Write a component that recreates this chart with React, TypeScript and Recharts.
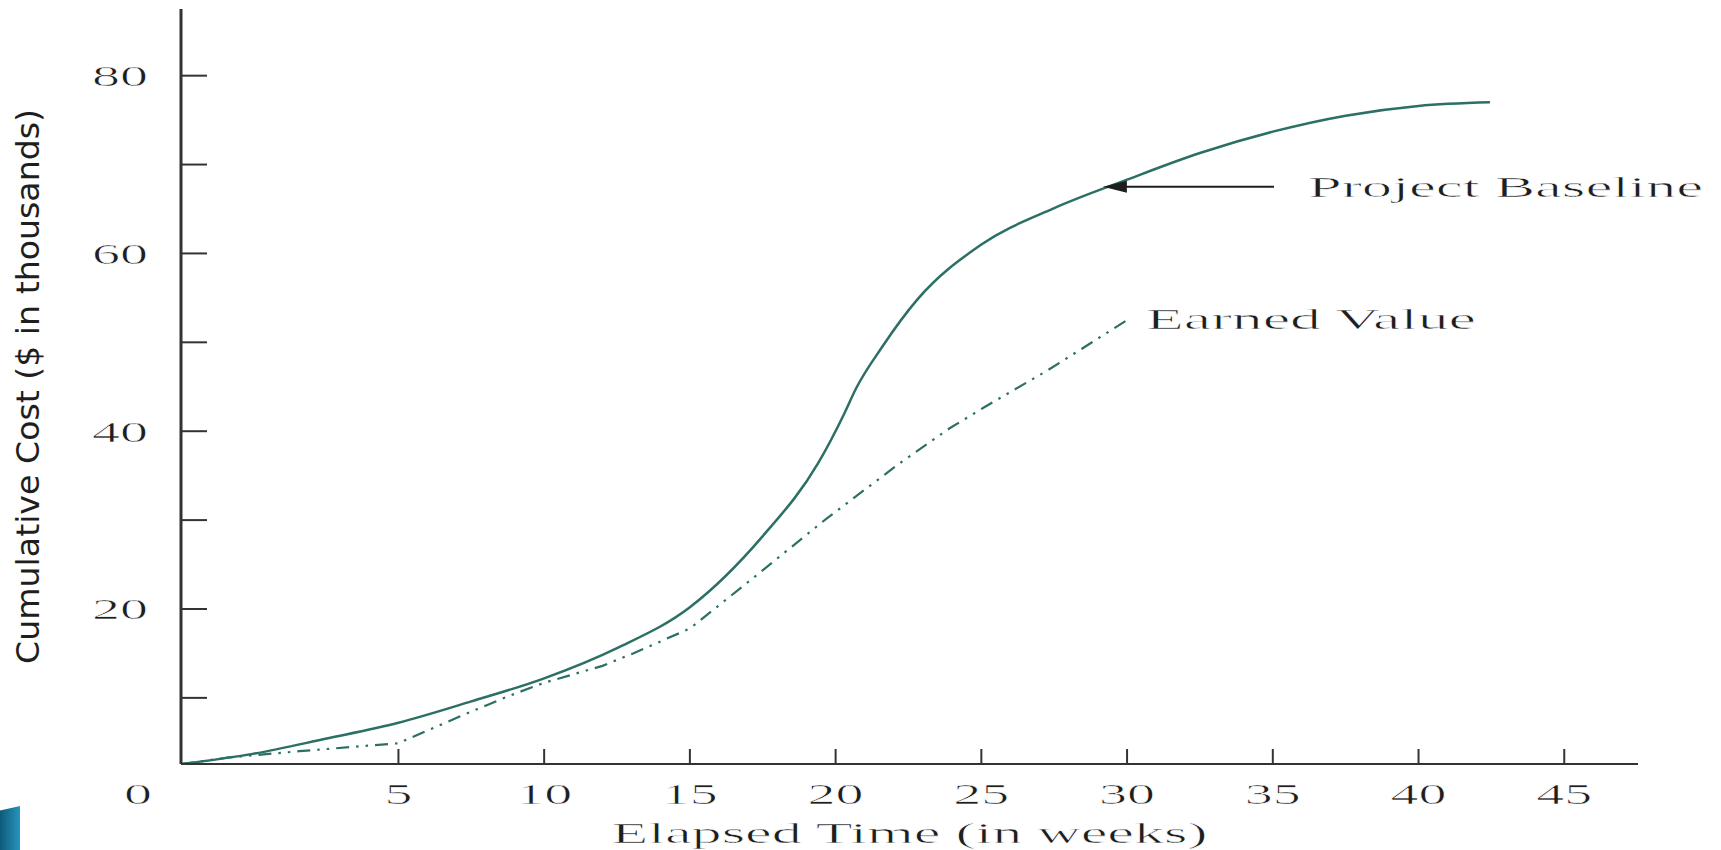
import { LineChart, Line, XAxis, YAxis, ReferenceLine, ReferenceDot } from "recharts";

// weeks / cumulative cost ($ thousands)
const baselineWeeks = [-2.46, 0, 2.5, 5, 7.5, 10, 12.5, 15, 17.5, 19.4, 20.3, 20.7, 21.6, 22.8, 25, 27.5, 30, 32.5, 35, 37.5, 40, 42.45];
const baselineCost = [2.56, 3.7, 5.4, 7.2, 9.6, 12.2, 15.6, 20.2, 28.2, 36.4, 42, 44.8, 49.5, 54.8, 61, 65.1, 68.3, 71.3, 73.7, 75.5, 76.6, 77.0];

const earnedWeeks = [-2.46, -0.8, 1.6, 5, 7.1, 8.7, 10, 12, 13.05, 15, 17.1, 19.7, 22.2, 23.9, 25.1, 27.3, 30];
const earnedCost = [2.56, 3.3, 4.0, 4.9, 7.9, 10.1, 11.7, 13.6, 15.0, 17.8, 23.3, 30.2, 36.4, 40.3, 42.7, 46.9, 52.5];

const xTicks = [5, 10, 15, 20, 25, 30, 35, 40, 45];
const yTicks = [10, 20, 30, 40, 50, 60, 70, 80];
const yLabelTicks = [20, 40, 60, 80];

const baselineData = baselineWeeks.map((w, i) => ({ week: w, cost: baselineCost[i] }));
const earnedData = earnedWeeks.map((w, i) => ({ week: w, cost: earnedCost[i] }));

const LINE = "#2b6f65";
const AXIS = "#333";
const INK = "#1e1e1e";
const SERIF = "'Liberation Serif', 'DejaVu Serif', serif";
const NARROW = "'Liberation Sans Narrow', 'DejaVu Sans Condensed', 'Liberation Sans', sans-serif";
const DIGIT_W = 28;

// thin white outline to take some weight off the stretched serif glyphs
const thin = { stroke: "#fff", strokeWidth: 0.6 };

const YTick = (props: any) => {
  const { x, y, payload } = props;
  const v = payload.value;
  const s = String(v);
  return (
    <g>
      <line x1={x} y1={y} x2={x + 26} y2={y} stroke={AXIS} strokeWidth={2} />
      {yLabelTicks.includes(v) && (
        <text x={x - 33} y={y} textAnchor="end" dominantBaseline="central" fontFamily={SERIF} fontSize={30} fill={INK}
          textLength={DIGIT_W * s.length} lengthAdjust="spacingAndGlyphs" {...thin}>
          {s}
        </text>
      )}
    </g>
  );
};

const XTick = (props: any) => {
  const { x, y, payload } = props;
  const s = String(payload.value);
  return (
    <g>
      <line x1={x} y1={y} x2={x} y2={y - 15} stroke={AXIS} strokeWidth={2} />
      <text x={x} y={y + 29} textAnchor="middle" dominantBaseline="central" fontFamily={SERIF} fontSize={30} fill={INK}
        textLength={DIGIT_W * s.length} lengthAdjust="spacingAndGlyphs" {...thin}>
        {s}
      </text>
    </g>
  );
};

const Arrow = (p: any) => {
  const tipX = Math.min(p.x1, p.x2);
  const tailX = Math.max(p.x1, p.x2);
  const y = p.y1;
  const head = 24;
  return (
    <g>
      <line x1={tailX} y1={y} x2={tipX + head - 2} y2={y} stroke={INK} strokeWidth={2} />
      <polygon points={`${tipX},${y} ${tipX + head},${y - 6} ${tipX + head},${y + 6}`} fill={INK} />
    </g>
  );
};

const annotation = (text: string, width: number) => (p: any) => {
  const vb = p.viewBox || {};
  return (
    <text x={vb.x} y={vb.y} dominantBaseline="central" fontFamily={SERIF} fontSize={30} fill={INK}
      textLength={width} lengthAdjust="spacingAndGlyphs" {...thin}>
      {text}
    </text>
  );
};

const zeroLabel = (p: any) => {
  const vb = p.viewBox || {};
  return (
    <text x={vb.x - 43} y={vb.y + 29} textAnchor="middle" dominantBaseline="central" fontFamily={SERIF} fontSize={30} fill={INK}
      textLength={DIGIT_W} lengthAdjust="spacingAndGlyphs" {...thin}>
      0
    </text>
  );
};

const xTitle = (p: any) => {
  const vb = p.viewBox || {};
  return (
    <text x={vb.x + vb.width / 2} y={vb.y + 68} textAnchor="middle" dominantBaseline="central" fontFamily={SERIF} fontSize={30} fill={INK}
      textLength={596} lengthAdjust="spacingAndGlyphs" {...thin}>
      Elapsed Time (in weeks)
    </text>
  );
};

const yTitle = (p: any) => {
  const vb = p.viewBox || {};
  const cx = 28;
  const cy = vb.y + vb.height / 2;
  return (
    <text x={cx} y={cy} transform={`rotate(-90, ${cx}, ${cy})`} textAnchor="middle" dominantBaseline="central"
      fontFamily={NARROW} fontSize={32} fill={INK} textLength={555} lengthAdjust="spacingAndGlyphs">
      Cumulative Cost ($ in thousands)
    </text>
  );
};

export default function App() {
  return (
    <div style={{ position: "absolute", left: 0, top: 0, width: 1721, height: 850, background: "#fff" }}>
      <LineChart width={1721} height={850} margin={{ top: 9, right: 83, bottom: 56, left: 121 }}>
        <XAxis
          dataKey="week"
          type="number"
          domain={[-2.46, 47.53]}
          ticks={xTicks}
          allowDataOverflow
          height={30}
          tickLine={false}
          tickSize={0}
          tickMargin={0}
          tick={<XTick />}
          axisLine={{ stroke: AXIS, strokeWidth: 2 }}
          label={{ content: xTitle }}
        />
        <YAxis
          type="number"
          domain={[2.56, 87.5]}
          ticks={yTicks}
          allowDataOverflow
          width={60}
          tickLine={false}
          tickSize={0}
          tickMargin={0}
          tick={<YTick />}
          axisLine={{ stroke: AXIS, strokeWidth: 3 }}
          label={{ content: yTitle }}
        />
        <Line data={baselineData} dataKey="cost" type="monotone" stroke={LINE} strokeWidth={2.5} dot={false} isAnimationActive={false} />
        <Line data={earnedData} dataKey="cost" type="linear" stroke={LINE} strokeWidth={2.2} strokeDasharray="13 7 2.5 7 2.5 7" dot={false} isAnimationActive={false} />
        <ReferenceLine segment={[{ x: 35.04, y: 67.5 }, { x: 29.17, y: 67.5 }]} ifOverflow="visible" shape={Arrow} />
        <ReferenceDot x={36.21} y={67.5} r={0} ifOverflow="visible" label={annotation("Project Baseline", 395)} />
        <ReferenceDot x={30.65} y={52.7} r={0} ifOverflow="visible" label={annotation("Earned Value", 330)} />
        <ReferenceDot x={-2.46} y={2.56} r={0} ifOverflow="visible" label={zeroLabel} />
      </LineChart>
      <div
        style={{
          position: "absolute",
          left: 0,
          top: 806,
          width: 20,
          height: 44,
          background: "linear-gradient(90deg, #0d5a7a, #2795bd)",
          clipPath: "polygon(0 10%, 100% 0, 100% 100%, 0 100%)",
        }}
      />
    </div>
  );
}
